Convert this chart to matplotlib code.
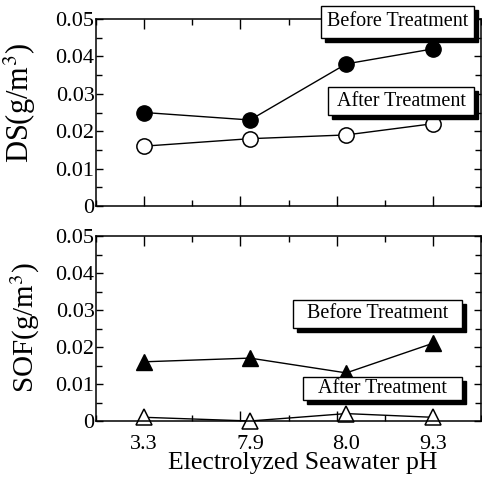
import matplotlib
matplotlib.use('Agg')
import matplotlib.pyplot as plt
from matplotlib.patches import Rectangle
from matplotlib.ticker import MultipleLocator

plt.rcParams['font.family'] = 'Liberation Serif'
plt.rcParams['mathtext.fontset'] = 'stix'

# electrolyzed seawater pH cases
ph_labels = ['3.3', '7.9', '8.0', '9.3']
ph_pos = [0, 1.1, 2.1, 3.0]

# dust (DS) concentration, g/m3
ds_before = [0.025, 0.023, 0.038, 0.042]
ds_after = [0.016, 0.018, 0.019, 0.022]

# soluble organic fraction (SOF), g/m3
sof_before = [0.016, 0.017, 0.013, 0.021]
sof_after = [0.001, 0.0, 0.002, 0.001]

W = H = 482
fig = plt.figure(figsize=(W / 100, H / 100), dpi=100)

def px_axes(left, top, right, bottom):
    return fig.add_axes([left / W, 1 - bottom / H, (right - left) / W, (bottom - top) / H])

def style(ax):
    ax.set_xlim(-0.5, 3.5)
    ax.set_ylim(0, 0.05)
    ax.xaxis.set_major_locator(MultipleLocator(1))
    ax.xaxis.set_minor_locator(MultipleLocator(0.5))
    ax.yaxis.set_minor_locator(MultipleLocator(0.005))
    ax.set_yticks([0, 0.01, 0.02, 0.03, 0.04, 0.05], ['0', '0.01', '0.02', '0.03', '0.04', '0.05'])
    ax.tick_params(which='both', direction='in', top=True, right=True, width=1.0)
    ax.tick_params(axis='x', which='major', length=7, labelbottom=False)
    ax.tick_params(axis='x', which='minor', length=4)
    ax.tick_params(axis='y', which='major', length=5, labelsize=16, pad=1)
    ax.tick_params(axis='y', which='minor', length=4)
    for s in ax.spines.values():
        s.set_linewidth(1.1)

def shadow_box(text, x0, y0, x1, y1, off=4):
    # a white label box with a black drop shadow, pixel coords from top left
    fig.add_artist(Rectangle(((x0 + off) / W, 1 - (y1 + off) / H), (x1 - x0) / W, (y1 - y0) / H,
                             transform=fig.transFigure, facecolor='black', edgecolor='black',
                             zorder=10, clip_on=False))
    fig.add_artist(Rectangle((x0 / W, 1 - y1 / H), (x1 - x0) / W, (y1 - y0) / H,
                             transform=fig.transFigure, facecolor='white', edgecolor='black',
                             linewidth=1.0, zorder=11, clip_on=False))
    fig.text((x0 + x1) / 2 / W, 1 - (y0 + y1) / 2 / H, text, ha='center', va='center',
             fontsize=14.5, zorder=12)

ax1 = px_axes(96, 19, 481, 206)
ax2 = px_axes(96, 236, 481, 421)

for ax in (ax1, ax2):
    style(ax)

ax1.plot(ph_pos, ds_before, '-o', color='black', lw=1.0, ms=11, mfc='black', mec='black', clip_on=False)
ax1.plot(ph_pos, ds_after, '-o', color='black', lw=1.0, ms=11, mfc='white', mec='black', mew=1.1, clip_on=False)
ax1.set_ylabel('DS(g/m$^3$)', fontsize=22)
ax1.yaxis.set_label_coords(-0.15, 0.55)

ax2.plot(ph_pos, sof_before, '-^', color='black', lw=1.0, ms=12, mfc='black', mec='black', clip_on=False)
ax2.plot(ph_pos, sof_after, '-^', color='black', lw=1.0, ms=12, mfc='white', mec='black', mew=1.1, clip_on=False)
ax2.set_ylabel('SOF(g/m$^3$)', fontsize=21)
ax2.yaxis.set_label_coords(-0.14, 0.505)

# pH labels sit under the data points, not on the tick marks
sec = ax2.secondary_xaxis('bottom')
sec.set_xticks(ph_pos, ph_labels)
sec.tick_params(length=0, labelsize=16, pad=10)
sec.spines['bottom'].set_visible(False)
ax2.set_xlabel('Electrolyzed Seawater pH', fontsize=18.5)
ax2.xaxis.set_label_coords(0.538, -0.17)

shadow_box('Before Treatment', 321, 6, 474, 38)
shadow_box('After Treatment', 328, 87, 474, 115)
shadow_box('Before Treatment', 293, 300, 462, 328)
shadow_box('After Treatment', 303, 377, 462, 400)

fig.savefig('out.png', dpi=100)
